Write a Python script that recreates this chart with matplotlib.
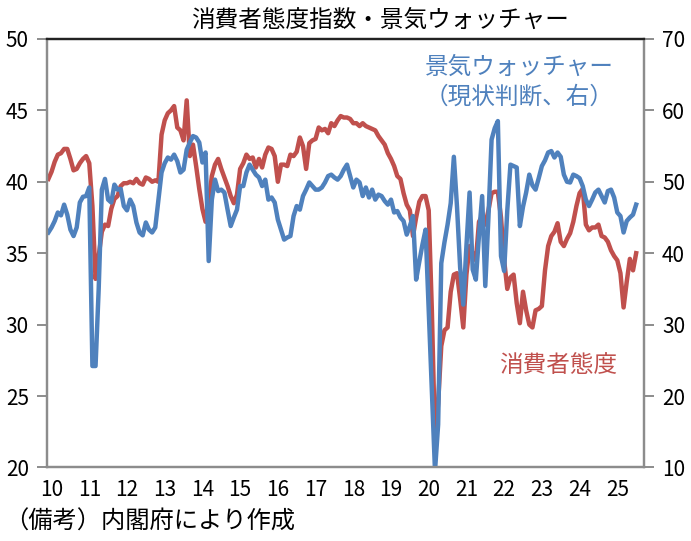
import matplotlib
matplotlib.use("Agg")
import matplotlib.pyplot as plt
import numpy as np

plt.rcParams["font.family"] = ["Noto Sans CJK JP", "DejaVu Sans"]

RED = "#C0504D"
BLUE = "#4F81BD"
GREY = "#8C8C8C"

# monthly, Jan 2010 - Aug 2025
consumer = [
    40.2, 40.7, 41.4, 41.9, 42.0, 42.3, 42.3, 41.6, 40.8, 40.9, 41.3, 41.6,  # 2010
    41.8, 41.3, 38.3, 33.2, 34.8, 36.5, 37.0, 36.9, 38.1, 38.8, 39.0, 39.7,  # 2011
    39.9, 39.9, 40.0, 39.9, 40.2, 39.9, 39.8, 40.3, 40.2, 40.0, 40.1, 40.0,  # 2012
    43.3, 44.3, 44.8, 45.0, 45.3, 43.8, 43.6, 42.9, 45.7, 41.8, 42.6, 41.1,  # 2013
    39.5, 38.1, 37.2, 38.5, 40.4, 41.2, 41.6, 40.9, 40.3, 39.7, 39.0, 38.5,  # 2014
    39.1, 40.9, 41.3, 41.9, 41.6, 41.7, 41.0, 41.6, 41.0, 41.9, 42.4, 42.3,  # 2015
    41.8, 40.0, 41.2, 41.2, 41.1, 41.9, 41.8, 42.1, 43.1, 42.5, 40.9, 42.7,  # 2016
    42.9, 43.0, 43.8, 43.6, 43.7, 43.4, 44.1, 43.9, 44.3, 44.6, 44.5, 44.5,  # 2017
    44.4, 44.1, 44.1, 43.9, 44.1, 43.9, 43.8, 43.7, 43.6, 43.2, 42.9, 42.6,  # 2018
    42.0, 41.6, 41.1, 40.4, 40.2, 39.2, 38.4, 38.0, 36.2, 37.5, 38.6, 39.0,  # 2019
    39.0, 38.0, 31.0, 21.9, 24.5, 28.5, 29.6, 29.8, 32.3, 33.5, 33.6, 31.8,  # 2020
    29.8, 33.5, 35.5, 35.0, 34.5, 37.2, 37.6, 37.0, 38.0, 39.2, 39.3, 39.3,  # 2021
    37.5, 34.5, 32.5, 33.3, 33.5, 31.5, 30.1, 32.3, 31.0, 30.0, 29.8, 31.0,  # 2022
    31.1, 31.3, 33.8, 35.5, 36.2, 36.5, 37.1, 35.8, 35.5, 36.0, 36.4, 37.2,  # 2023
    38.3, 39.2, 39.5, 37.0, 36.6, 36.8, 36.8, 37.0, 36.2, 36.1, 35.8, 35.2,  # 2024
    34.8, 34.5, 33.6, 31.2, 33.0, 34.6, 33.8, 35.0,                          # 2025
]

watchers = [
    42.9, 43.6, 44.5, 45.7, 45.3, 46.8, 45.4, 43.3, 42.4, 43.6, 47.1, 47.9,  # 2010
    48.0, 49.2, 24.2, 24.2, 35.0, 48.9, 50.4, 47.5, 47.1, 49.6, 48.9, 49.0,  # 2011
    46.6, 46.0, 47.5, 46.6, 44.3, 42.9, 42.5, 44.3, 43.3, 42.9, 43.6, 47.5,  # 2012
    51.3, 52.6, 53.4, 53.1, 53.8, 52.9, 51.3, 51.7, 54.5, 55.5, 56.4, 56.2,  # 2013
    55.5, 52.7, 54.1, 38.9, 47.5, 50.3, 48.7, 48.9, 48.5, 46.1, 43.8, 45.0,  # 2014
    46.1, 49.4, 49.4, 51.3, 52.4, 51.7, 51.0, 50.6, 49.4, 50.3, 47.5, 47.8,  # 2015
    47.1, 44.7, 43.3, 41.9, 42.2, 42.4, 45.2, 46.6, 46.1, 48.0, 48.9, 49.9,  # 2016
    49.4, 48.9, 48.9, 49.2, 49.9, 50.8, 51.0, 50.6, 50.3, 50.8, 51.7, 52.4,  # 2017
    50.8, 49.2, 50.3, 49.9, 48.0, 49.2, 47.8, 48.9, 47.5, 48.2, 48.0, 47.3,  # 2018
    46.8, 47.5, 45.7, 45.9, 45.0, 44.5, 42.6, 43.8, 45.2, 36.3, 38.8, 41.2,  # 2019
    43.3, 32.0, 21.0, 9.5, 16.0, 38.6, 41.5, 44.0, 47.0, 53.5, 46.5, 38.0,   # 2020
    32.8, 41.0, 48.5, 37.7, 36.3, 42.5, 48.0, 35.4, 45.0, 55.9, 57.5, 58.5,  # 2021
    39.6, 37.5, 46.0, 52.4, 52.2, 52.0, 43.8, 46.5, 48.5, 51.0, 49.5, 48.9,  # 2022
    50.5, 52.2, 53.0, 54.1, 54.3, 53.4, 54.1, 53.5, 51.0, 50.0, 49.9, 51.0,  # 2023
    50.8, 50.5, 49.4, 47.5, 46.6, 47.5, 48.5, 48.9, 48.0, 47.1, 48.7, 48.9,  # 2024
    47.8, 45.7, 45.2, 42.9, 44.5, 45.0, 45.4, 46.8,                          # 2025
]

year_labels = [str(y) for y in range(10, 26)]
left_ticks = [20, 25, 30, 35, 40, 45, 50]
right_ticks = [10, 20, 30, 40, 50, 60, 70]

months = np.arange(len(consumer))

fig = plt.figure(figsize=(6.91, 5.41), dpi=100)
ax = fig.add_axes([0.068, 0.136, 0.864, 0.792])
ax2 = ax.twinx()

ax.plot(months, consumer, color=RED, lw=3.2, solid_joinstyle="round")
ax2.plot(months, watchers, color=BLUE, lw=3.2, solid_joinstyle="round")

ax.set_xlim(-0.45, 189.5)
ax.set_ylim(20, 50)
ax2.set_ylim(10, 70)
ax.set_yticks(left_ticks)
ax2.set_yticks(right_ticks)
ax.set_xticks([12 * i + 1 for i in range(len(year_labels))])
ax.set_xticklabels(year_labels)

for lab in ax.get_yticklabels() + ax2.get_yticklabels() + ax.get_xticklabels():
    lab.set_fontsize(15)

for a in (ax, ax2):
    for side in ("left", "right", "bottom"):
        a.spines[side].set_color(GREY)
        a.spines[side].set_linewidth(1.6)
    a.spines["top"].set_color("#222222")
    a.spines["top"].set_linewidth(1.6)

ax.tick_params(axis="y", direction="out", length=7, width=1.4, color=GREY, pad=6)
ax2.tick_params(axis="y", direction="out", length=7, width=1.4, color=GREY, pad=6)
ax.tick_params(axis="x", length=0, pad=8)

ax.text(0.792, 0.934, "景気ウォッチャー", transform=ax.transAxes, color=BLUE,
        fontsize=17, ha="center", va="center")
ax.text(0.791, 0.864, "（現状判断、右）", transform=ax.transAxes, color=BLUE,
        fontsize=17, ha="center", va="center")
ax.text(0.856, 0.237, "消費者態度", transform=ax.transAxes, color=RED,
        fontsize=17, ha="center", va="center")

fig.text(0.55, 0.963, "消費者態度指数・景気ウォッチャー", fontsize=17,
         ha="center", va="center")
fig.text(0.006, 0.035, "（備考）内閣府により作成", fontsize=17.5,
         ha="left", va="center")

fig.savefig("out.png", dpi=100)
